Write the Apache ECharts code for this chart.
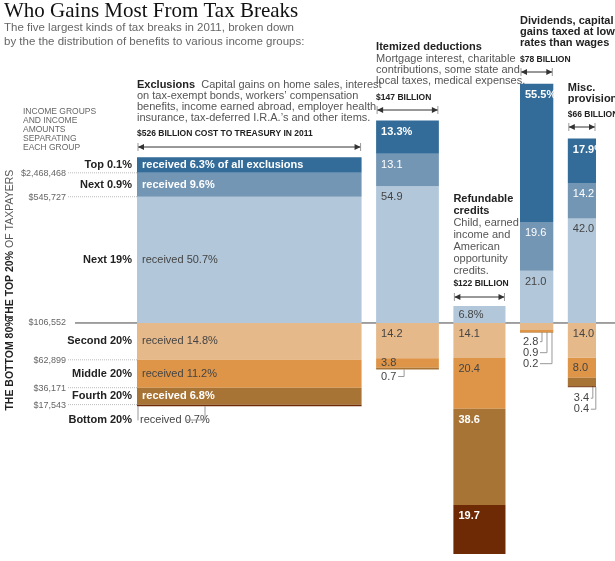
<!DOCTYPE html>
<html>
<head>
<meta charset="utf-8">
<script src="https://cdn.jsdelivr.net/npm/echarts@6/dist/echarts.min.js"></script>
<style>html,body{margin:0;background:#fff}#main{width:615px;height:561px}</style>
</head>
<body>
<div id="main"></div>
<script>
// income groups, top to bottom
var groups = ['Top 0.1%', 'Next 0.9%', 'Next 19%', 'Second 20%', 'Middle 20%', 'Fourth 20%', 'Bottom 20%'];
var thresholds = ['$2,468,468', '$545,727', '$106,552', '$62,899', '$36,171', '$17,543'];
// cost of each kind of break, billions
var costs = [526, 147, 122, 78, 66];
// share of each break going to each group, %
var exclusions = [6.3, 9.6, 50.7, 14.8, 11.2, 6.8, 0.7];
var itemized   = [13.3, 13.1, 54.9, 14.2, 3.8, 0.7, 0];
var refundable = [0, 0, 6.8, 14.1, 20.4, 38.6, 19.7];
var dividends  = [55.5, 19.6, 21.0, 2.8, 0.9, 0.2, 0];
var misc       = [17.9, 14.2, 42.0, 14.0, 8.0, 3.4, 0.4];
var shares = [exclusions, itemized, refundable, dividends, misc];

var colors = ['#336c98', '#7496b5', '#b2c8da', '#e6b98b', '#df9548', '#a87435', '#6d2a05'];
var GAP = 34;
var FONT = '"Liberation Sans", Arial, sans-serif';

var myChart = echarts.init(document.getElementById('main'));

// build rectangles
var rects = [];
var starts = [];
var pos = 0;
costs.forEach(function (c, ci) {
    starts.push(pos);
    var v = shares[ci];
    var top = 0;
    for (var g = 2; g >= 0; g--) {
        if (v[g] > 0) rects.push([pos, pos + c, top, top + v[g], g, ci, v[g]]);
        top += v[g];
    }
    var bot = 0;
    for (var g2 = 3; g2 < 7; g2++) {
        if (v[g2] > 0) rects.push([pos, pos + c, bot - v[g2], bot, g2, ci, v[g2]]);
        bot -= v[g2];
    }
    pos += c + GAP;
});
var xMax = pos - GAP;

function labelFor(ci, g, v) {
    if (ci === 0) {
        return 'received ' + v.toFixed(1) + '%' + (g === 0 ? ' of all exclusions' : '');
    }
    if (g === 0 || (ci === 2 && g === 2)) return v.toFixed(1) + '%';
    return v.toFixed(1);
}

var option = {
    animation: false,
    grid: { left: 137, right: 19, top: 74, bottom: 4 },
    xAxis: { type: 'value', min: 0, max: xMax, show: false },
    yAxis: { type: 'value', min: -94, max: 100, show: false },
    series: [{
        type: 'custom',
        data: rects,
        renderItem: function (params, api) {
            var p0 = api.coord([api.value(0), api.value(3)]);
            var p1 = api.coord([api.value(1), api.value(2)]);
            var g = api.value(4), ci = api.value(5), v = api.value(6);
            var children = [{
                type: 'rect',
                shape: { x: p0[0], y: p0[1], width: p1[0] - p0[0], height: p1[1] - p0[1] },
                style: { fill: colors[g] }
            }];
            var h = p1[1] - p0[1];
            if (v > 3.5) {
                var white = g <= 1 || g >= 5 || (ci !== 0 && g === 5);
                var bold = g === 0 || (ci === 0 && g === 1) || g >= 5 || (ci === 2 && g === 4 && false);
                var ty = (ci === 0 || h < 22) ? p0[1] + h / 2 : p0[1] + 11;
                children.push({
                    type: 'text',
                    style: {
                        x: p0[0] + 5, y: ty, text: labelFor(ci, g, v),
                        fill: white ? '#fff' : '#444',
                        font: (bold ? 'bold ' : '') + '11px ' + FONT,
                        verticalAlign: 'middle'
                    }
                });
            }
            return { type: 'group', children: children };
        }
    }]
};
myChart.setOption(option);

function px(x) { return myChart.convertToPixel({ gridIndex: 0 }, [x, 0])[0]; }
function py(y) { return myChart.convertToPixel({ gridIndex: 0 }, [0, y])[1]; }

var gr = [];
function txt(x, y, t, opt) {
    opt = opt || {};
    gr.push({
        type: 'text', x: x, y: y, rotation: opt.rot || 0,
        style: {
            text: t, fill: opt.color || '#555',
            font: (opt.bold ? 'bold ' : '') + (opt.size || 11) + 'px ' + (opt.family || FONT),
            align: opt.align || 'left', verticalAlign: 'middle', rich: opt.rich
        }
    });
}
function line(x1, y1, x2, y2, color, dash) {
    gr.push({ type: 'line', shape: { x1: x1, y1: y1, x2: x2, y2: y2 },
        style: { stroke: color || '#666', lineWidth: 1, lineDash: dash } });
}
function arrow(ci, y) {
    var a = px(starts[ci]) + 1, b = px(starts[ci] + costs[ci]) - 1;
    line(a, y, b, y, '#333');
    line(a, y - 4, a, y + 4, '#999');
    line(b, y - 4, b, y + 4, '#999');
    gr.push({ type: 'polygon', shape: { points: [[a, y], [a + 6, y - 3], [a + 6, y + 3]] }, style: { fill: '#333' } });
    gr.push({ type: 'polygon', shape: { points: [[b, y], [b - 6, y - 3], [b - 6, y + 3]] }, style: { fill: '#333' } });
}

// title
txt(4, 11, 'Who Gains Most From Tax Breaks', { size: 21, color: '#111', family: '"Liberation Serif", "DejaVu Serif", serif' });
txt(4, 28, 'The five largest kinds of tax breaks in 2011, broken down', { size: 11.5, color: '#666' });
txt(4, 42, 'by the the distribution of benefits to various income groups:', { size: 11.5, color: '#666' });

// left legend
['INCOME GROUPS', 'AND INCOME', 'AMOUNTS', 'SEPARATING', 'EACH GROUP'].forEach(function (t, i) {
    txt(23, 112 + i * 9, t, { size: 8.5, color: '#666' });
});

// group labels and thresholds
var bounds = [];
var acc = 0;
for (var g = 2; g >= 0; g--) { bounds[g] = [acc, acc + exclusions[g]]; acc += exclusions[g]; }
acc = 0;
for (var g2 = 3; g2 < 7; g2++) { bounds[g2] = [acc - exclusions[g2], acc]; acc -= exclusions[g2]; }
groups.forEach(function (name, gi) {
    var y = gi === 6 ? py(bounds[6][0]) + 14 : (py(bounds[gi][0]) + py(bounds[gi][1])) / 2;
    txt(132, y, name, { bold: true, color: '#222', align: 'right' });
});
thresholds.forEach(function (t, i) {
    var y = py(bounds[i][0]);
    var yl = i === 2 ? y : y + 1;
    txt(66, yl, t, { size: 9, color: '#666', align: 'right' });
    if (i !== 2) line(68, y, 137, y, '#bbb', [1, 1]);
});
// baseline
line(75, py(0), 615, py(0), '#444');
txt(10, 245, '{b|THE TOP 20%} {n|OF TAXPAYERS}', { rot: Math.PI / 2, align: 'center',
    rich: { b: { font: 'bold 10.5px ' + FONT, fill: '#222' }, n: { font: '10.5px ' + FONT, fill: '#555' } } });
txt(10, 364, 'THE BOTTOM 80%', { rot: Math.PI / 2, align: 'center', bold: true, size: 10.5, color: '#222' });

// exclusions header
var x0 = px(starts[0]);
txt(x0, 85, '{b|Exclusions}  Capital gains on home sales, interest', { rich: { b: { font: 'bold 11px ' + FONT, fill: '#222' } } });
txt(x0, 96, 'on tax-exempt bonds, workers\u2019 compensation');
txt(x0, 107, 'benefits, income earned abroad, employer health');
txt(x0, 118, 'insurance, tax-deferred I.R.A.\u2019s and other items.');
txt(x0, 134, '$526 BILLION COST TO TREASURY IN 2011', { bold: true, size: 8.5, color: '#222' });
arrow(0, 147);

// itemized header
var x1 = px(starts[1]);
txt(x1, 47, 'Itemized deductions', { bold: true, color: '#222' });
txt(x1, 59, 'Mortgage interest, charitable');
txt(x1, 70, 'contributions, some state and');
txt(x1, 81, 'local taxes, medical expenses.');
txt(x1, 98, '$147 BILLION', { bold: true, size: 8.5, color: '#222' });
arrow(1, 110);

// refundable header
var x2 = px(starts[2]);
txt(x2, 199, 'Refundable', { bold: true, color: '#222' });
txt(x2, 211, 'credits', { bold: true, color: '#222' });
['Child, earned', 'income and', 'American', 'opportunity', 'credits.'].forEach(function (t, i) {
    txt(x2, 223 + i * 12, t);
});
txt(x2, 284, '$122 BILLION', { bold: true, size: 8.5, color: '#222' });
arrow(2, 297);

// dividends header
var x3 = px(starts[3]);
txt(x3, 21, 'Dividends, capital', { bold: true, color: '#222' });
txt(x3, 32, 'gains taxed at lower', { bold: true, color: '#222' });
txt(x3, 43, 'rates than wages', { bold: true, color: '#222' });
txt(x3, 60, '$78 BILLION', { bold: true, size: 8.5, color: '#222' });
arrow(3, 72);

// misc header
var x4 = px(starts[4]);
txt(x4, 88, 'Misc.', { bold: true, color: '#222' });
txt(x4, 99, 'provisions', { bold: true, color: '#222' });
txt(x4, 115, '$66 BILLION', { bold: true, size: 8.5, color: '#222' });
arrow(4, 127);

// small-share callouts
var eb = py(-33.5);
line(138, eb, 138, eb + 14, '#999');
txt(140, 420, 'received ' + exclusions[6].toFixed(1) + '%', { color: '#444' });
line(185, 420, 205, 420, '#999');
line(205, 420, 205, eb, '#999');

var ib = py(-18.7);
txt(x1 + 5, ib + 7, itemized[5].toFixed(1), { color: '#444' });
line(x1 + 22, ib + 7, x1 + 28, ib + 7, '#999');
line(x1 + 28, ib + 7, x1 + 28, ib, '#999');

var db = py(-3.9);
[3, 4, 5].forEach(function (g, i) {
    var y = db + 9 + i * 11;
    txt(x3 + 3, y, dividends[g].toFixed(1), { color: '#444' });
    var lx = x3 + 22 + i * 5;
    line(x3 + 20, y, lx, y, '#999');
    line(lx, y, lx, py(-2.8 - (i > 0 ? dividends[4] : 0) - (i > 1 ? dividends[5] : 0)) - 1, '#999');
});
var mb = py(-25.8);
[5, 6].forEach(function (g, i) {
    var y = mb + 11 + i * 11;
    txt(x4 + 6, y, misc[g].toFixed(1), { color: '#444' });
    var lx = x4 + 25 + i * 3;
    line(x4 + 23, y, lx, y, '#999');
    line(lx, y, lx, mb - (i === 0 ? 4 : 0), '#999');
});

myChart.setOption({ graphic: gr });
</script>
</body>
</html>
